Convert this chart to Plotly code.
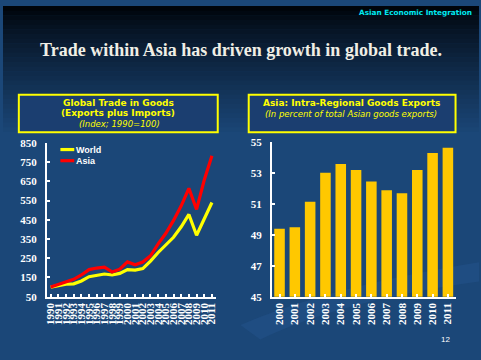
import plotly.graph_objects as go

W, H = 481, 360

years_line = [str(y) for y in range(1990, 2012)]
world = [100, 107, 115, 117, 132, 154, 163, 168, 163, 171, 191, 188, 196, 235, 280, 322, 359, 414, 478, 370, 456, 540]
asia = [100, 112, 127, 140, 163, 191, 199, 204, 179, 193, 231, 216, 230, 263, 325, 380, 447, 523, 614, 504, 657, 783]

years_bar = [str(y) for y in range(2000, 2012)]
intra = [49.4, 49.5, 51.15, 53.03, 53.6, 53.2, 52.46, 51.9, 51.7, 53.2, 54.3, 54.65]

left_ticks = [50, 150, 250, 350, 450, 550, 650, 750, 850]
right_ticks = [45, 47, 49, 51, 53, 55]

def px(x):
    return x / W

def py(y):
    return 1 - y / H

fig = go.Figure()

fig.add_trace(go.Scatter(x=years_line, y=world, mode="lines", name="World",
                         line=dict(color="#ffff00", width=3.2), xaxis="x", yaxis="y"))
fig.add_trace(go.Scatter(x=years_line, y=asia, mode="lines", name="Asia",
                         line=dict(color="#ff0000", width=3.2), xaxis="x", yaxis="y"))
fig.add_trace(go.Bar(x=years_bar, y=intra, marker=dict(color="#ffc800", line=dict(width=0)),
                     xaxis="x2", yaxis="y2", showlegend=False))

# background gradient bands
shapes = []
bg_final = (27, 71, 120)
top = (0, 4, 10)
n = 28
band_end = 135
shapes.append(dict(type="rect", xref="paper", yref="paper", x0=0, x1=1, y0=0, y1=1,
                   fillcolor="rgb(%d,%d,%d)" % bg_final, line=dict(width=0), layer="below"))
for i in range(n):
    y0 = band_end * i / n
    y1 = band_end * (i + 1) / n + 0.5
    t = (i / (n - 1)) ** 0.8
    c = tuple(int(top[k] + (bg_final[k] - top[k]) * t) for k in range(3))
    shapes.append(dict(type="rect", xref="paper", yref="paper", x0=0, x1=1, y0=py(y1), y1=py(y0),
                       fillcolor="rgb(%d,%d,%d)" % c, line=dict(width=0), layer="below"))
# subtle swoosh
shapes.append(dict(type="path", xref="paper", yref="paper",
                   path="M %f %f Q %f %f %f %f L %f %f Q %f %f %f %f Z" % (
                       px(240), py(330), px(330), py(290), px(481), py(265),
                       px(481), py(285), px(340), py(305), px(260), py(345)),
                   fillcolor="rgba(40,90,150,0.35)", line=dict(width=0), layer="below"))

# title boxes
for (x0, x1) in [(16, 217), (248.3, 457.3)]:
    shapes.append(dict(type="rect", xref="paper", yref="paper", x0=px(x0), x1=px(x1),
                       y0=py(130.7), y1=py(91.7), fillcolor="rgb(27,62,112)",
                       line=dict(color="#ffff00", width=2), layer="below"))

# custom legend samples
shapes.append(dict(type="line", xref="paper", yref="paper", x0=px(58), x1=px(72), y0=py(148.5), y1=py(148.5),
                   line=dict(color="#ffff00", width=3.2)))
shapes.append(dict(type="line", xref="paper", yref="paper", x0=px(58), x1=px(72), y0=py(160), y1=py(160),
                   line=dict(color="#ff0000", width=3.2)))

ann = []
ann.append(dict(text="<b>Trade within Asia has driven growth in global trade.</b>", x=px(241), y=py(45),
                xref="paper", yref="paper", showarrow=False, xanchor="center", yanchor="middle",
                font=dict(family="Liberation Serif", size=18, color="#f0efe6")))
ann.append(dict(text="<b>Asian Economic Integration</b>", x=px(476), y=py(7), xref="paper", yref="paper",
                showarrow=False, xanchor="right", yanchor="middle",
                font=dict(family="DejaVu Sans", size=7.3, color="#00e8f0")))
ann.append(dict(text="<b>Global Trade in Goods</b>", x=px(116.5), y=py(100), xref="paper", yref="paper",
                showarrow=False, xanchor="center", yanchor="middle",
                font=dict(family="DejaVu Sans", size=9, color="#ffff00")))
ann.append(dict(text="<b>(Exports plus Imports)</b>", x=px(116.5), y=py(111.2), xref="paper", yref="paper",
                showarrow=False, xanchor="center", yanchor="middle",
                font=dict(family="DejaVu Sans", size=9, color="#ffff00")))
ann.append(dict(text="<i>(Index; 1990=100)</i>", x=px(118), y=py(122.5), xref="paper", yref="paper",
                showarrow=False, xanchor="center", yanchor="middle",
                font=dict(family="DejaVu Sans", size=8.5, color="#ffff00")))
ann.append(dict(text="<b>Asia: Intra-Regional Goods Exports</b>", x=px(352.5), y=py(100.3), xref="paper", yref="paper",
                showarrow=False, xanchor="center", yanchor="middle",
                font=dict(family="DejaVu Sans", size=9, color="#ffff00")))
ann.append(dict(text="<i>(In percent of total Asian goods exports)</i>", x=px(352), y=py(111.7), xref="paper", yref="paper",
                showarrow=False, xanchor="center", yanchor="middle",
                font=dict(family="DejaVu Sans", size=8.5, color="#ffff00")))
ann.append(dict(text="<b>World</b>", x=px(72), y=py(148.5), xref="paper", yref="paper",
                showarrow=False, xanchor="left", yanchor="middle",
                font=dict(family="Liberation Sans", size=9, color="#ffffff")))
ann.append(dict(text="<b>Asia</b>", x=px(72), y=py(160), xref="paper", yref="paper",
                showarrow=False, xanchor="left", yanchor="middle",
                font=dict(family="Liberation Sans", size=9, color="#ffffff")))
ann.append(dict(text="12", x=px(447), y=py(345), xref="paper", yref="paper",
                showarrow=False, xanchor="center", yanchor="middle",
                font=dict(family="Liberation Sans", size=8, color="#ffffff")))

tickfont = dict(family="Liberation Serif", size=11, color="#ffffff")
axis_common = dict(showgrid=False, zeroline=False, showline=True, linecolor="#ffffff", linewidth=2,
                   ticks="inside", tickcolor="#ffffff", ticklen=3, tickwidth=2, tickfont=tickfont)

fig.update_layout(
    width=W, height=H, margin=dict(l=0, r=0, t=0, b=0),
    paper_bgcolor="rgb(27,71,120)", plot_bgcolor="rgba(0,0,0,0)",
    showlegend=False, bargap=0.31, hovermode=False,
    shapes=shapes, annotations=ann,
    xaxis=dict(domain=[px(44.3), px(215)], anchor="y", type="category", range=[-0.5, 21.5],
               tickangle=-90, tickmode="array", tickvals=years_line, ticktext=["<b>%s</b>" % y for y in years_line],
               **axis_common),
    yaxis=dict(domain=[py(300.7), py(141.7)], anchor="x", range=[50, 850], tickvals=left_ticks,
               ticktext=["<b>%d</b>" % v for v in left_ticks], ticklabelstandoff=6, **axis_common),
    xaxis2=dict(domain=[px(271.7), px(457.3)], anchor="y2", type="category", range=[-0.5, 11.5],
                tickangle=-90, tickmode="array", tickvals=years_bar, ticktext=["<b>%s</b>" % y for y in years_bar],
                **axis_common),
    yaxis2=dict(domain=[py(300.7), py(141)], anchor="x2", range=[45, 55], tickvals=right_ticks,
                ticktext=["<b>%d</b>" % v for v in right_ticks], ticklabelstandoff=6, **axis_common),
)

fig.write_html("out.html", config={"displayModeBar": False},
               post_script="document.body.style.margin='0';document.body.style.overflow='hidden';")
